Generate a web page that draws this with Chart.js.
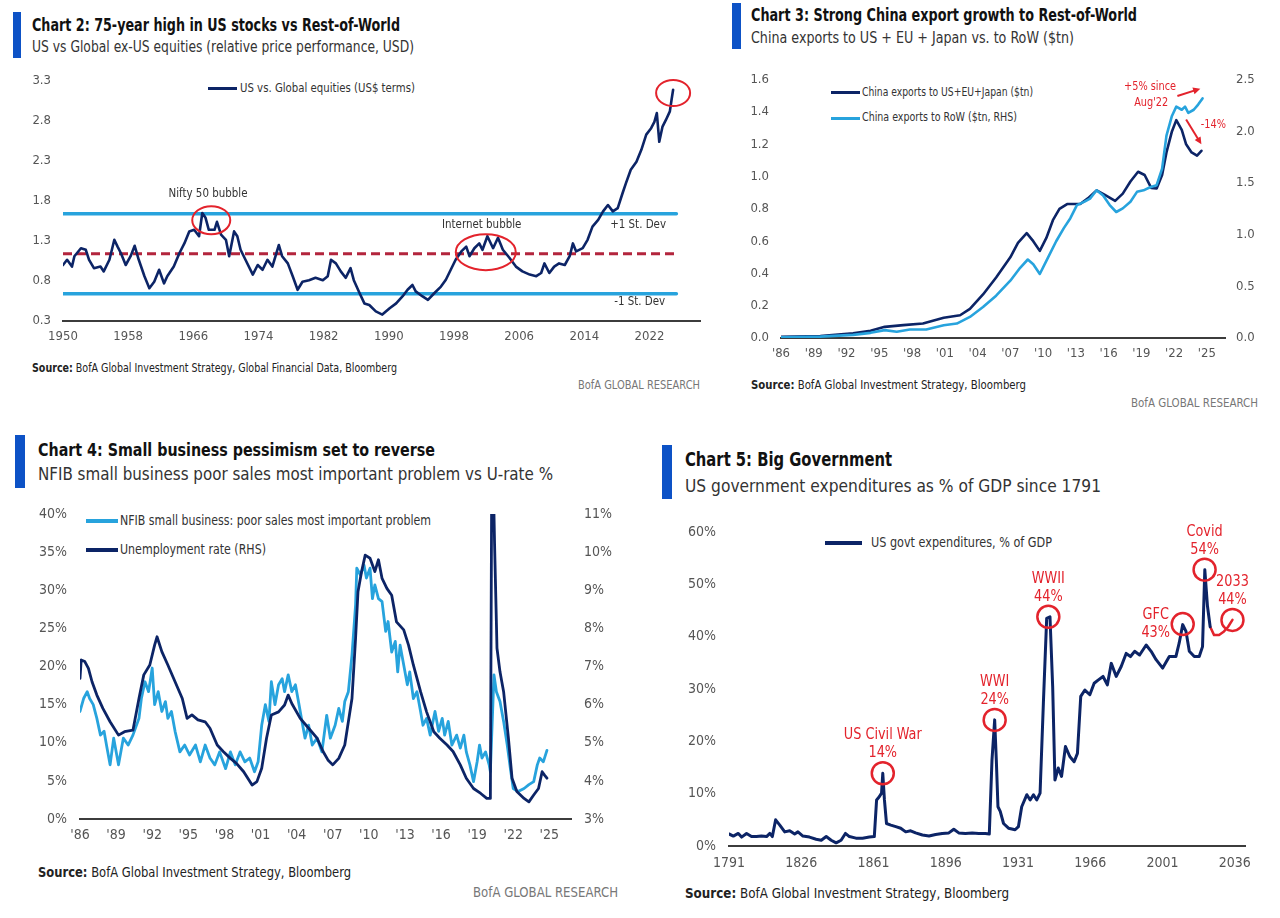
<!DOCTYPE html>
<html>
<head>
<meta charset="utf-8">
<script src="https://cdn.jsdelivr.net/npm/chart.js@4.4.1/dist/chart.umd.min.js"></script>
<style>
html,body{margin:0;padding:0;background:#fff}
body{width:1280px;height:918px;position:relative;overflow:hidden;font-family:"Liberation Sans Narrow","DejaVu Sans Condensed","Liberation Sans",sans-serif}
.tx{position:absolute;white-space:nowrap;line-height:1;transform-origin:0 50%}
.bar{position:absolute;background:#0d52c6}
.ln{position:absolute}
canvas{position:absolute}
</style>
</head>
<body>
<!-- Chart 2 -->
<div class="bar" style="left:13px;top:12px;width:8px;height:46px"></div>
<div class="tx" data-x="32" data-cy="26.7" data-w="368" style="font-weight:bold;font-size:17.5px;color:#111">Chart 2: 75-year high in US stocks vs Rest-of-World</div>
<div class="tx" data-x="32" data-cy="48.3" data-w="382" style="font-size:15px;color:#333">US vs Global ex-US equities (relative price performance, USD)</div>
<div class="ln" style="left:208px;top:87px;width:29px;height:3px;background:#0c2466"></div>
<div class="tx" data-x="240" data-cy="88.3" data-w="175" style="font-size:12px;color:#333">US vs. Global equities (US$ terms)</div>
<div class="tx" data-x="32" data-cy="369" data-w="365" style="font-size:11.5px;color:#222"><b>Source:</b> BofA Global Investment Strategy, Global Financial Data, Bloomberg</div>
<div class="tx" data-x="578" data-cy="386" data-w="122" style="font-size:12px;color:#777">BofA GLOBAL RESEARCH</div>

<!-- Chart 3 -->
<div class="bar" style="left:732px;top:3px;width:9px;height:46px"></div>
<div class="tx" data-x="751" data-cy="16.7" data-w="386" style="font-weight:bold;font-size:17.5px;color:#111">Chart 3: Strong China export growth to Rest-of-World</div>
<div class="tx" data-x="751" data-cy="39.3" data-w="323" style="font-size:15.5px;color:#333">China exports to US + EU + Japan vs. to RoW ($tn)</div>
<div class="ln" style="left:831px;top:91px;width:29px;height:3px;background:#0c2466"></div>
<div class="tx" data-x="862" data-cy="92.7" data-w="171" style="font-size:12.5px;color:#333">China exports to US+EU+Japan ($tn)</div>
<div class="ln" style="left:831px;top:117px;width:29px;height:3px;background:#27a3dd"></div>
<div class="tx" data-x="862" data-cy="118.3" data-w="155" style="font-size:12.5px;color:#333">China exports to RoW ($tn, RHS)</div>
<div class="tx" data-x="751" data-cy="386" data-w="275" style="font-size:12px;color:#222"><b>Source:</b> BofA Global Investment Strategy, Bloomberg</div>
<div class="tx" data-x="1131" data-cy="404" data-w="127" style="font-size:12px;color:#777">BofA GLOBAL RESEARCH</div>

<!-- Chart 4 -->
<div class="bar" style="left:15px;top:435px;width:10px;height:53px"></div>
<div class="tx" data-x="38" data-cy="451" data-w="397" style="font-weight:bold;font-size:18.5px;color:#111">Chart 4: Small business pessimism set to reverse</div>
<div class="tx" data-x="38" data-cy="476" data-w="515" style="font-size:17.5px;color:#333">NFIB small business poor sales most important problem vs U-rate %</div>
<div class="ln" style="left:86px;top:519px;width:32px;height:3.5px;background:#27a3dd"></div>
<div class="tx" data-x="120" data-cy="520.7" data-w="311" style="font-size:14px;color:#333">NFIB small business: poor sales most important problem</div>
<div class="ln" style="left:86px;top:548px;width:32px;height:3.5px;background:#0c2466"></div>
<div class="tx" data-x="120" data-cy="549.3" data-w="146" style="font-size:14px;color:#333">Unemployment rate (RHS)</div>
<div class="tx" data-x="38" data-cy="873" data-w="313" style="font-size:14px;color:#222"><b>Source:</b> BofA Global Investment Strategy, Bloomberg</div>
<div class="tx" data-x="473" data-cy="893" data-w="145" style="font-size:13.5px;color:#777">BofA GLOBAL RESEARCH</div>

<!-- Chart 5 -->
<div class="bar" style="left:662px;top:445px;width:10px;height:54px"></div>
<div class="tx" data-x="685" data-cy="461" data-w="207" style="font-weight:bold;font-size:19.5px;color:#111">Chart 5: Big Government</div>
<div class="tx" data-x="685" data-cy="486.7" data-w="416" style="font-size:18.5px;color:#333">US government expenditures as % of GDP since 1791</div>
<div class="ln" style="left:825px;top:541px;width:37px;height:3.5px;background:#0c2466"></div>
<div class="tx" data-x="871" data-cy="542.7" data-w="181" style="font-size:14.5px;color:#333">US govt expenditures, % of GDP</div>
<div class="tx" data-x="685" data-cy="894" data-w="324" style="font-size:14px;color:#222"><b>Source:</b> BofA Global Investment Strategy, Bloomberg</div>

<canvas id="c2" width="705" height="300" style="left:0;top:60px"></canvas>
<canvas id="c3" width="540" height="310" style="left:720px;top:60px"></canvas>
<canvas id="c4" width="640" height="360" style="left:0;top:490px"></canvas>
<canvas id="c5" width="600" height="370" style="left:660px;top:510px"></canvas>

<script>
// ---------------- DATA ----------------
// Chart 2: US vs Global ex-US equities (relative)
const c2Years = [1950.0,1950.5,1951.1,1951.4,1952.2,1952.8,1953.2,1953.8,1954.6,1955.0,1955.7,1956.3,1956.7,1957.1,1957.7,1958.3,1958.8,1959.3,1960.0,1960.6,1961.2,1961.8,1962.4,1962.8,1963.6,1964.3,1964.9,1965.5,1966.1,1966.7,1967.1,1967.5,1967.9,1968.6,1968.9,1969.4,1970.0,1970.4,1971.0,1971.4,1971.8,1972.4,1973.3,1973.9,1974.5,1975.1,1975.7,1976.5,1976.9,1977.6,1978.2,1978.8,1979.4,1980.2,1981.0,1981.9,1982.5,1982.9,1983.5,1984.1,1984.7,1985.3,1985.7,1986.4,1987.0,1987.6,1988.4,1989.2,1990.1,1990.9,1991.7,1992.3,1992.9,1993.3,1994.1,1994.8,1995.6,1996.4,1997.0,1997.6,1998.2,1998.9,1999.5,1999.9,2000.5,2001.1,2001.5,2002.1,2002.8,2003.4,2004.0,2004.8,2005.6,2006.4,2007.3,2008.1,2008.7,2009.1,2009.7,2010.3,2010.9,2011.6,2012.2,2012.6,2013.0,2013.8,2014.4,2015.0,2015.7,2016.3,2016.9,2017.5,2018.1,2018.7,2019.1,2019.7,2020.4,2021.0,2021.6,2022.2,2022.6,2022.9,2023.2,2023.6,2024.0,2024.5,2024.7,2024.9];
const c2Values = [1.00,1.065,0.98,1.11,1.21,1.19,1.065,0.96,0.98,0.92,1.065,1.315,1.23,1.15,1.00,1.11,1.24,1.065,0.86,0.71,0.79,0.94,0.77,0.86,0.98,1.15,1.27,1.42,1.44,1.36,1.65,1.59,1.44,1.44,1.54,1.38,1.315,1.11,1.42,1.36,1.19,1.065,0.88,1.00,0.94,1.065,0.98,1.25,1.11,1.02,0.86,0.69,0.79,0.81,0.84,0.81,0.86,1.065,1.02,0.92,0.84,0.96,0.81,0.65,0.52,0.50,0.42,0.38,0.46,0.52,0.61,0.69,0.75,0.67,0.61,0.565,0.65,0.73,0.815,0.94,1.065,1.17,1.23,1.11,1.21,1.27,1.19,1.36,1.21,1.34,1.19,1.09,0.98,0.92,0.88,0.86,0.90,1.02,0.90,0.98,1.02,1.00,1.11,1.27,1.17,1.21,1.315,1.48,1.565,1.67,1.75,1.67,1.71,1.90,2.02,2.19,2.29,2.44,2.63,2.71,2.79,2.90,2.54,2.73,2.81,2.92,3.06,3.19];
const c2Mean = 1.14;
const c2StDev = 0.5;
const c2BandYears = [1950, 2025.3];
const c2XTicks = [1950,1958,1966,1974,1982,1990,1998,2006,2014,2022];
const c2YTicks = [0.3,0.8,1.3,1.8,2.3,2.8,3.3];

// Chart 3: China exports ($tn)
const c3DmYears = [1986.0,1989.6,1992.6,1994.2,1995.5,1997.2,1999.0,2000.9,2002.4,2003.3,2004.5,2005.7,2007.0,2007.7,2008.5,2009.1,2009.7,2010.3,2010.9,2011.5,2012.2,2012.8,2013.4,2014.1,2014.9,2015.7,2016.6,2017.3,2018.0,2018.7,2019.3,2019.9,2020.4,2020.9,2021.3,2021.8,2022.2,2022.7,2023.1,2023.6,2024.1,2024.5];
const c3DmValues = [0.008,0.012,0.029,0.045,0.069,0.08,0.09,0.126,0.141,0.18,0.27,0.375,0.50,0.59,0.65,0.60,0.54,0.62,0.73,0.80,0.83,0.83,0.83,0.865,0.915,0.885,0.85,0.895,0.97,1.03,1.01,0.93,0.926,1.01,1.15,1.28,1.35,1.29,1.20,1.15,1.13,1.16];
const c3RowYears = [1986.0,1989.6,1992.6,1994.2,1995.5,1996.6,1997.8,1999.3,2000.9,2002.1,2003.3,2004.5,2005.7,2007.0,2007.9,2008.6,2009.1,2009.7,2010.3,2011.2,2011.9,2012.5,2013.1,2013.8,2014.3,2014.9,2015.5,2016.1,2016.7,2017.3,2018.0,2018.6,2019.2,2019.8,2020.4,2020.9,2021.3,2021.8,2022.2,2022.7,2023.0,2023.3,2023.8,2024.2,2024.6];
const c3RowValues = [0.006,0.013,0.03,0.05,0.076,0.06,0.083,0.083,0.124,0.14,0.204,0.30,0.41,0.555,0.68,0.76,0.714,0.62,0.746,0.937,1.064,1.16,1.287,1.32,1.35,1.43,1.38,1.287,1.22,1.255,1.32,1.415,1.43,1.46,1.48,1.64,1.96,2.15,2.24,2.21,2.24,2.18,2.21,2.26,2.32];
const c3XTicks = [1986,1989,1992,1995,1998,2001,2004,2007,2010,2013,2016,2019,2022,2025];
const c3YLeftTicks = [0,0.2,0.4,0.6,0.8,1.0,1.2,1.4,1.6];
const c3YRightTicks = [0,0.5,1.0,1.5,2.0,2.5];

// Chart 4: NFIB poor sales (%) vs unemployment rate (%)
const c4NfibYears = [1986.0,1986.3,1986.6,1986.8,1987.1,1987.4,1987.7,1988.0,1988.2,1988.5,1988.8,1989.2,1989.6,1990.0,1990.4,1990.9,1991.1,1991.4,1991.7,1992.0,1992.2,1992.5,1992.8,1993.1,1993.3,1993.6,1993.9,1994.3,1994.7,1995.1,1995.6,1996.0,1996.4,1996.8,1997.2,1997.6,1998.1,1998.5,1998.9,1999.3,1999.7,2000.1,2000.5,2000.8,2001.1,2001.4,2001.7,2001.9,2002.2,2002.5,2002.8,2003.0,2003.3,2003.6,2003.9,2004.2,2004.4,2004.7,2005.0,2005.3,2005.7,2006.1,2006.5,2006.8,2007.2,2007.5,2007.8,2008.0,2008.3,2008.6,2008.9,2009.0,2009.3,2009.6,2009.8,2010.1,2010.3,2010.5,2010.8,2011.1,2011.4,2011.6,2011.9,2012.2,2012.4,2012.6,2012.9,2013.2,2013.4,2013.7,2014.0,2014.3,2014.5,2014.8,2015.1,2015.5,2015.8,2016.1,2016.3,2016.6,2016.9,2017.3,2017.6,2017.9,2018.1,2018.4,2018.7,2019.0,2019.2,2019.4,2019.7,2020.0,2020.1,2020.4,2020.6,2020.9,2021.2,2021.5,2021.8,2022.0,2022.4,2022.9,2023.3,2023.7,2024.0,2024.2,2024.5,2024.8];
const c4NfibValues = [14.1,15.8,16.7,15.8,15.0,13.2,11.0,11.5,9.7,7.1,10.6,7.1,10.6,9.7,11.0,13.2,15.8,18.0,16.7,19.8,15.0,16.7,14.1,15.4,13.2,14.1,11.5,8.8,9.7,8.4,9.7,7.5,9.7,8.0,7.1,8.8,6.6,8.8,7.1,8.8,7.5,8.0,6.2,7.5,12.3,15.0,12.8,18.0,15.0,17.6,18.4,16.7,18.9,16.7,17.6,15.0,13.2,10.6,12.3,9.7,10.6,8.8,13.6,10.6,12.3,14.5,12.8,15.4,16.7,21.5,28.1,32.9,32.0,33.3,31.6,32.9,28.9,30.7,28.9,28.5,24.6,25.9,21.9,23.3,19.3,22.8,20.2,17.6,19.3,15.8,16.7,14.1,12.3,13.2,11.0,14.1,11.5,13.2,11.0,12.8,9.7,11.0,9.3,11.0,8.8,7.1,4.9,7.5,9.7,8.0,8.8,7.1,6.2,18.9,16.7,15.4,12.8,9.7,6.2,4.0,3.6,4.0,4.5,4.9,7.1,8.0,7.5,9.0];
const c4UrateYears = [1986.0,1986.1,1986.4,1986.7,1987.0,1987.4,1987.9,1988.5,1989.2,1989.7,1990.4,1990.9,1991.3,1991.8,1992.2,1992.4,1992.8,1993.3,1993.9,1994.5,1994.9,1995.3,1995.8,1996.4,1996.8,1997.4,1997.9,1998.5,1999.0,1999.6,2000.3,2000.7,2001.1,2001.5,2001.9,2002.5,2003.0,2003.3,2003.6,2004.3,2005.0,2005.7,2006.2,2006.6,2007.0,2007.5,2008.0,2008.6,2008.9,2009.1,2009.4,2009.7,2010.1,2010.5,2010.8,2011.1,2011.5,2011.9,2012.3,2012.9,2013.3,2013.7,2014.3,2014.8,2015.4,2015.9,2016.5,2017.0,2017.6,2018.1,2018.7,2019.3,2019.8,2020.1,2020.2,2020.4,2020.45,2020.65,2020.9,2021.2,2021.6,2021.9,2022.3,2022.9,2023.3,2023.7,2024.1,2024.4,2024.6,2024.8];
const c4UrateValues = [6.69,7.17,7.13,6.95,6.6,6.25,5.9,5.55,5.2,5.29,5.33,6.16,6.78,7.04,7.56,7.78,7.39,7.04,6.6,6.16,5.64,5.73,5.6,5.55,5.38,4.94,4.77,4.59,4.46,4.24,3.89,3.98,4.33,5.12,5.73,5.81,5.99,6.25,6.03,5.64,5.38,5.12,4.77,4.55,4.42,4.59,4.94,6.16,7.74,8.96,9.49,9.92,9.84,9.49,9.8,9.31,9.05,8.87,8.17,7.96,7.56,7.04,6.34,5.81,5.29,5.12,4.94,4.77,4.42,4.07,3.8,3.67,3.54,3.54,11.0,11.0,10.2,7.48,6.86,6.34,5.12,4.07,3.72,3.54,3.45,3.63,3.8,4.24,4.15,4.07];
const c4XTicks = [1986,1989,1992,1995,1998,2001,2004,2007,2010,2013,2016,2019,2022,2025];
const c4YLeftTicks = [0,5,10,15,20,25,30,35,40];
const c4YRightTicks = [3,4,5,6,7,8,9,10,11];

// Chart 5: US government expenditures, % of GDP
const c5Years = [1791,1793.1,1795.5,1797.1,1799.5,1801.9,1804.3,1806.7,1809.2,1810.8,1812.0,1813.6,1815.6,1818.0,1820.4,1822.8,1824.4,1826.8,1830.0,1833.2,1835.7,1838.1,1840.5,1842.9,1845.3,1847.4,1849.3,1852.5,1855.7,1859.0,1861.4,1862.5,1863.8,1864.9,1865.5,1866.3,1867.3,1869.4,1871.8,1874.2,1876.6,1879.0,1881.4,1884.7,1887.9,1891.1,1894.3,1897.5,1899.9,1902.3,1905.5,1908.8,1912.0,1915.2,1917.1,1918.4,1919.7,1920.5,1921.3,1922.4,1924.0,1926.4,1929.6,1931.2,1932.8,1935.3,1936.9,1938.5,1940.1,1941.7,1943.3,1944.9,1946.5,1947.8,1948.9,1950.5,1952.1,1954.0,1956.1,1958.2,1959.8,1961.4,1963.4,1965.8,1967.9,1969.8,1972.2,1974.3,1976.2,1978.6,1981.0,1983.4,1985.5,1987.5,1989.9,1993.1,1995.5,1997.9,2001.1,2004.3,2007.5,2009.1,2010.8,2012.4,2014.0,2016.4,2018.8,2020.4,2021.5,2022.8,2024.1];
const c5Values = [2.3,1.9,2.4,1.7,2.4,1.8,1.8,1.9,1.8,2.4,1.8,5.0,4.0,2.7,2.9,2.3,2.7,1.9,1.7,1.3,1.1,1.8,1.1,0.6,1.1,2.4,1.8,1.5,1.5,1.7,1.8,8.8,9.4,10.1,13.9,8.8,4.3,4.0,3.7,3.4,2.7,2.9,2.5,2.1,1.9,2.2,2.4,2.5,3.2,2.5,2.4,2.5,2.4,2.4,2.3,16.4,24.1,16.4,7.5,6.6,4.3,3.4,3.1,3.7,7.5,9.8,8.8,9.8,8.8,10.1,27.3,43.5,43.8,30.5,12.6,14.9,13.3,19.0,17.1,16.1,17.7,28.6,29.8,28.9,31.1,31.7,32.4,30.8,34.9,32.4,34.3,36.8,36.2,37.2,36.5,38.4,37.2,35.6,34.0,36.2,36.2,38.8,42.3,41.0,37.2,36.2,36.2,38.1,52.8,45.8,41.9];
const c5ProjYears = [2024.1,2026.0,2028.4,2030.8,2032.8,2034.9];
const c5ProjValues = [41.9,40.3,40.3,41.0,41.9,43.2];
const c5XTicks = [1791,1826,1861,1896,1931,1966,2001,2036];
const c5YTicks = [0,10,20,30,40,50,60];
const c5Notes = [
  {lines:['US Civil War','14%'], x:1865.5, y:13.9},
  {lines:['WWI','24%'], x:1919.7, y:24.1},
  {lines:['WWII','44%'], x:1945.7, y:43.8},
  {lines:['GFC','43%'], x:2010.8, y:42.4, side:'left'},
  {lines:['Covid','54%'], x:2021.4, y:52.8},
  {lines:['2033','44%'], x:2034.9, y:43.2}
];

// ---------------- STYLE / LAYOUT ----------------
const FONT = '"Liberation Sans Narrow","DejaVu Sans Condensed","Liberation Sans",sans-serif';
const NAVY = '#0c2466', LIGHT = '#27a3dd', RED = '#e3232c', DRED = '#b3253d', TICK = '#555';
Chart.defaults.font.family = FONT;
const mctx = document.createElement('canvas').getContext('2d');
function squeeze(text, size, target, weight){ mctx.font = (weight||'normal') + ' ' + size + 'px ' + FONT; return target / mctx.measureText(text).width; }

// HTML text: keep font height, squeeze horizontally to the reference width
document.querySelectorAll('.tx').forEach(el => {
  el.style.left = el.dataset.x + 'px';
  const fs = parseFloat(getComputedStyle(el).fontSize);
  const w = el.getBoundingClientRect().width;
  el.style.transform = 'scaleX(' + ((+el.dataset.w) / w) + ')';
  el.style.top = (+el.dataset.cy - fs * 0.55) + 'px';
});

function sText(ctx, text, x, y, k){ ctx.save(); ctx.translate(x, y); ctx.scale(k, 1); ctx.fillText(text, 0, 0); ctx.restore(); }

const pts = (xs, ys) => xs.map((x, i) => ({x, y: ys[i]}));
function xAxis(min, max, ticks, fmt, size, pad, height){
  return {type:'linear', min, max,
    afterBuildTicks: s => { s.ticks = ticks.map(v => ({value:v})); },
    afterFit: s => { s.height = height; },
    ticks:{autoSkip:false, maxRotation:0, padding:pad, color:TICK, font:{size}, callback:fmt},
    grid:{display:false, drawTicks:false}, border:{display:true, color:'#3c3c3c', width:2}};
}
function yAxis(pos, min, max, ticks, fmt, size, pad, width){
  return {type:'linear', position:pos, min, max,
    afterBuildTicks: s => { s.ticks = ticks.map(v => ({value:v})); },
    afterFit: s => { s.width = width; },
    ticks:{padding:pad, color:TICK, font:{size}, callback:fmt},
    grid:{display:false, drawTicks:false}, border:{display:false}};
}
const base = {responsive:false, animation:false, events:[],
  plugins:{legend:{display:false}, tooltip:{enabled:false}},
  elements:{point:{radius:0}, line:{tension:0, borderJoinStyle:'round', borderCapStyle:'round'}}};
function line(data, color, width, extra){ return Object.assign({data, borderColor:color, borderWidth:width, fill:false}, extra||{}); }

// ---------------- CHART 2 ----------------
const c2Ann = {id:'c2ann', afterDatasetsDraw(ch){
  const {ctx} = ch, x = ch.scales.x, y = ch.scales.y;
  ctx.save();
  ctx.strokeStyle = RED; ctx.lineWidth = 2;
  [[1968.2,1.56,19,14],[2001.9,1.16,30,18],[2024.9,3.15,17,13]].forEach(e => {
    ctx.beginPath(); ctx.ellipse(x.getPixelForValue(e[0]), y.getPixelForValue(e[1]), e[2], e[3], 0, 0, Math.PI*2); ctx.stroke();
  });
  ctx.fillStyle = '#333'; ctx.textAlign = 'center'; ctx.textBaseline = 'middle';
  ctx.font = '13px ' + FONT;
  const k = squeeze('Nifty 50 bubble', 13, 79);
  [['Nifty 50 bubble',1967.8,1.89],['Internet bubble',2001.4,1.51],['+1 St. Dev',2020.6,1.51],['-1 St. Dev',2020.8,0.54]].forEach(t => {
    sText(ctx, t[0], x.getPixelForValue(t[1]), y.getPixelForValue(t[2]), k);
  });
  ctx.restore();
}};
new Chart(document.getElementById('c2'), {type:'line',
  data:{datasets:[
    line(pts(c2Years, c2Values), NAVY, 2.6),
    line(pts(c2BandYears, [c2Mean, c2Mean]), DRED, 3, {borderDash:[9,5], borderCapStyle:'butt'}),
    line(pts(c2BandYears, [c2Mean + c2StDev, c2Mean + c2StDev]), LIGHT, 3.5),
    line(pts(c2BandYears, [c2Mean - c2StDev, c2Mean - c2StDev]), LIGHT, 3.5)
  ]},
  options:Object.assign({}, base, {layout:{padding:{top:21, right:5, left:0, bottom:0}},
    scales:{x:xAxis(1950, 2028.2, c2XTicks, v => String(v), 13, 8, 39),
            y:yAxis('left', 0.3, 3.3, c2YTicks, v => v.toFixed(1), 13, 12, 63)}}),
  plugins:[c2Ann]});

// ---------------- CHART 3 ----------------
function arrow(ctx, x1, y1, x2, y2){
  const a = Math.atan2(y2 - y1, x2 - x1), h = 8;
  ctx.beginPath(); ctx.moveTo(x1, y1); ctx.lineTo(x2 - Math.cos(a)*4, y2 - Math.sin(a)*4); ctx.stroke();
  ctx.beginPath(); ctx.moveTo(x2, y2);
  ctx.lineTo(x2 - h*Math.cos(a - 0.45), y2 - h*Math.sin(a - 0.45));
  ctx.lineTo(x2 - h*Math.cos(a + 0.45), y2 - h*Math.sin(a + 0.45));
  ctx.closePath(); ctx.fill();
}
const c3Ann = {id:'c3ann', afterDatasetsDraw(ch){
  const {ctx} = ch, x = ch.scales.x, y = ch.scales.y;
  ctx.save();
  ctx.strokeStyle = RED; ctx.fillStyle = RED; ctx.lineWidth = 2;
  arrow(ctx, x.getPixelForValue(2022.3), y.getPixelForValue(1.50), x.getPixelForValue(2024.4), y.getPixelForValue(1.545));
  arrow(ctx, x.getPixelForValue(2023.1), y.getPixelForValue(1.354), x.getPixelForValue(2024.5), y.getPixelForValue(1.20));
  ctx.textAlign = 'center'; ctx.textBaseline = 'middle';
  ctx.font = '13px ' + FONT;
  const k = squeeze('+5% since', 13, 52);
  sText(ctx, '+5% since', x.getPixelForValue(2019.8), y.getPixelForValue(1.56), k);
  sText(ctx, "Aug'22", x.getPixelForValue(2019.9), y.getPixelForValue(1.46), k);
  sText(ctx, '-14%', x.getPixelForValue(2025.6), y.getPixelForValue(1.32), k);
  ctx.restore();
}};
new Chart(document.getElementById('c3'), {type:'line',
  data:{datasets:[
    line(pts(c3RowYears, c3RowValues), LIGHT, 2.6, {yAxisID:'y1'}),
    line(pts(c3DmYears, c3DmValues), NAVY, 2.6, {yAxisID:'y'})
  ]},
  options:Object.assign({}, base, {layout:{padding:{top:16.5, right:0, left:0, bottom:0}},
    scales:{x:xAxis(1986, 2026.66, c3XTicks, v => "'" + String(v).slice(2), 13, 8, 32),
            y:yAxis('left', 0, 1.6, c3YLeftTicks, v => v.toFixed(1), 13, 12, 61),
            y1:yAxis('right', 0, 2.5, c3YRightTicks, v => v.toFixed(1), 13, 11, 35)}}),
  plugins:[c3Ann]});

// ---------------- CHART 4 ----------------
new Chart(document.getElementById('c4'), {type:'line',
  data:{datasets:[
    line(pts(c4UrateYears, c4UrateValues), NAVY, 2.8, {yAxisID:'y1'}),
    line(pts(c4NfibYears, c4NfibValues), LIGHT, 2.8, {yAxisID:'y'})
  ]},
  options:Object.assign({}, base, {layout:{padding:{top:24, right:0, left:0, bottom:0}},
    scales:{x:xAxis(1986, 2026.8, c4XTicks, v => "'" + String(v).slice(2), 14, 8, 31),
            y:yAxis('left', 0, 40, c4YLeftTicks, v => v + '%', 14, 13, 80),
            y1:yAxis('right', 3, 11, c4YRightTicks, v => v + '%', 14, 13, 69)}})});

// ---------------- CHART 5 ----------------
const c5Ann = {id:'c5ann', afterDatasetsDraw(ch){
  const {ctx} = ch, x = ch.scales.x, y = ch.scales.y;
  ctx.save();
  ctx.strokeStyle = RED; ctx.fillStyle = RED; ctx.lineWidth = 2.5;
  ctx.textAlign = 'center'; ctx.textBaseline = 'middle';
  ctx.font = '15px ' + FONT;
  const k = squeeze('US Civil War', 15, 78);
  c5Notes.forEach(n => {
    const px = x.getPixelForValue(n.x), py = y.getPixelForValue(n.y);
    ctx.beginPath(); ctx.arc(px, py, 11, 0, Math.PI*2); ctx.stroke();
    if (n.side === 'left') {
      sText(ctx, n.lines[0], px - 27, py - 9, k);
      sText(ctx, n.lines[1], px - 27, py + 9, k);
    } else {
      sText(ctx, n.lines[0], px, py - 38, k);
      sText(ctx, n.lines[1], px, py - 20, k);
    }
  });
  ctx.restore();
}};
new Chart(document.getElementById('c5'), {type:'line',
  data:{datasets:[
    line(pts(c5Years, c5Values), NAVY, 3),
    line(pts(c5ProjYears, c5ProjValues), RED, 2.5)
  ]},
  options:Object.assign({}, base, {layout:{padding:{top:22, right:12, left:0, bottom:0}},
    scales:{x:xAxis(1791, 2041.1, c5XTicks, v => String(v), 14, 9, 34),
            y:yAxis('left', 0, 60, c5YTicks, v => v + '%', 14, 13, 69)}}),
  plugins:[c5Ann]});
</script>
</body>
</html>
